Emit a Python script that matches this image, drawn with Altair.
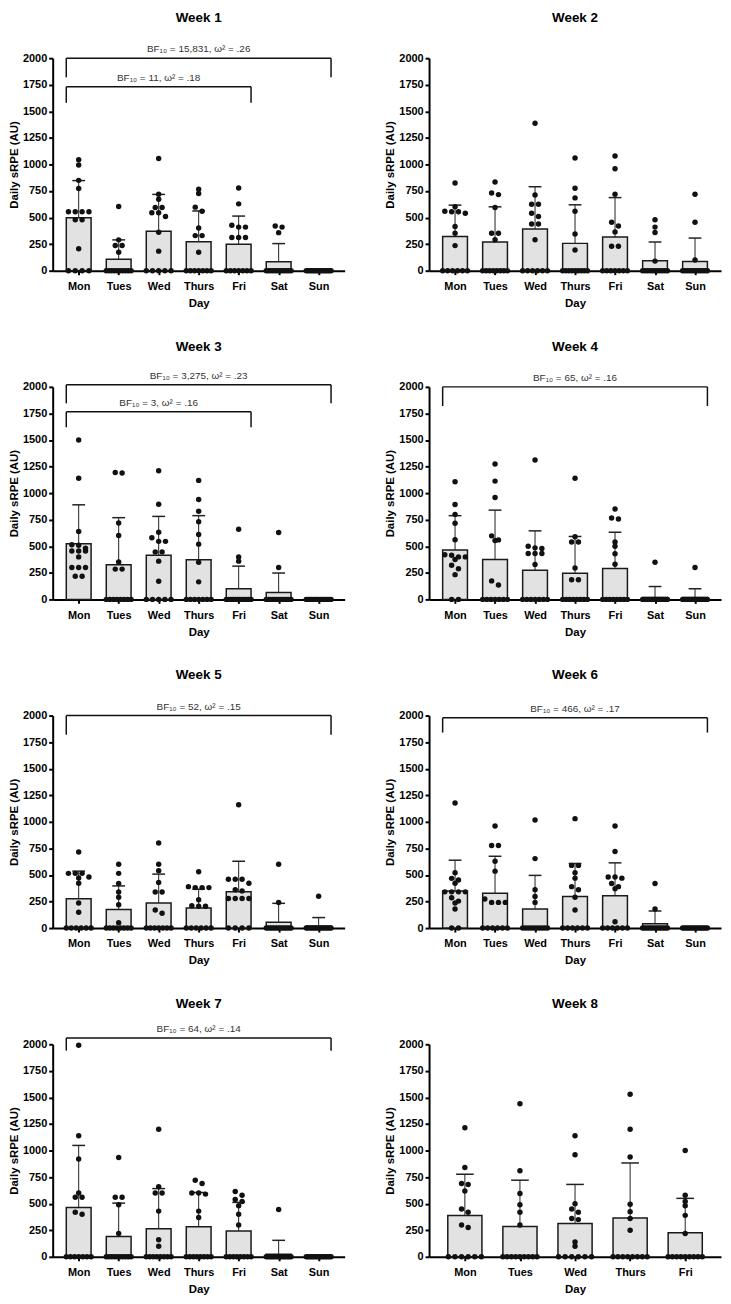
import json
import altair as alt
import pandas as pd

DAYS7 = ["Mon", "Tues", "Wed", "Thurs", "Fri", "Sat", "Sun"]
DAYS5 = ["Mon", "Tues", "Wed", "Thurs", "Fri"]

# ---------------- Week 1 ----------------
w1_mean = [498, 108, 371, 272, 249, 84, 0]
w1_sd = [350, 182, 347, 290, 265, 171, 0]
w1_points = [
    [1045, 994, 850, 773, 554, 554, 554, 554, 480, 480, 206, 0, 0, 0, 0],
    [604, 290, 237, 237, 174, 0, 0, 0, 0, 0, 0, 0, 0, 0, 0],
    [1056, 720, 673, 595, 595, 545, 545, 510, 361, 184, 0, 0, 0, 0, 0],
    [767, 727, 598, 560, 402, 330, 330, 174, 0, 0, 0, 0, 0, 0, 0],
    [779, 629, 427, 410, 410, 312, 312, 312, 0, 0, 0, 0, 0, 0, 0],
    [421, 410, 358, 0, 0, 0, 0, 0, 0, 0, 0, 0, 0, 0, 0],
    [0, 0, 0, 0, 0, 0, 0, 0, 0, 0, 0, 0, 0, 0, 0],
]
w1_brackets = [
    ("Mon", "Sun", 2000, 1820, "BF\u2081\u2080 = 15,831, \u03c9\u00b2 = .26"),
    ("Mon", "Fri", 1730, 1580, "BF\u2081\u2080 = 11, \u03c9\u00b2 = .18"),
]

# ---------------- Week 2 ----------------
w2_mean = [322, 270, 392, 257, 316, 93, 87]
w2_sd = [295, 331, 398, 363, 372, 177, 220]
w2_points = [
    [825, 601, 560, 555, 555, 540, 415, 353, 236, 0, 0, 0, 0, 0, 0],
    [834, 732, 716, 595, 353, 353, 291, 0, 0, 0, 0, 0, 0, 0, 0],
    [1388, 713, 626, 626, 540, 510, 440, 440, 291, 0, 0, 0, 0, 0, 0],
    [1060, 775, 685, 560, 345, 195, 0, 0, 0, 0, 0, 0, 0, 0, 0],
    [1080, 960, 720, 455, 420, 365, 230, 230, 0, 0, 0, 0, 0, 0, 0],
    [480, 410, 360, 90, 0, 0, 0, 0, 0, 0, 0, 0, 0, 0, 0],
    [720, 455, 100, 0, 0, 0, 0, 0, 0, 0, 0, 0, 0, 0, 0],
]
w2_brackets = []

# ---------------- Week 3 ----------------
w3_mean = [524, 326, 416, 372, 99, 65, 0]
w3_sd = [366, 443, 365, 416, 214, 183, 0]
w3_points = [
    [1500, 1140, 640, 515, 510, 481, 456, 456, 456, 400, 301, 301, 301, 217, 217],
    [1194, 1190, 719, 602, 353, 285, 285, 0, 0, 0, 0, 0, 0, 0, 0],
    [1210, 895, 632, 580, 546, 546, 447, 447, 360, 171, 0, 0, 0, 0, 0],
    [1120, 940, 830, 730, 610, 520, 350, 165, 0, 0, 0, 0, 0, 0, 0],
    [660, 400, 360, 0, 0, 0, 0, 0, 0, 0, 0, 0, 0, 0, 0],
    [630, 300, 0, 0, 0, 0, 0, 0, 0, 0, 0, 0, 0, 0, 0],
    [0, 0, 0, 0, 0, 0, 0, 0, 0, 0, 0, 0, 0, 0, 0],
]
w3_brackets = [
    ("Mon", "Sun", 2020, 1845, "BF\u2081\u2080 = 3,275, \u03c9\u00b2 = .23"),
    ("Mon", "Fri", 1765, 1620, "BF\u2081\u2080 = 3, \u03c9\u00b2 = .16"),
]

# ---------------- Week 4 ----------------
w4_mean = [465, 376, 274, 245, 291, 18, 18]
w4_sd = [323, 464, 371, 347, 341, 103, 82]
w4_points = [
    [1107, 893, 800, 716, 561, 420, 415, 400, 400, 375, 322, 288, 233, 0, 0],
    [1274, 1113, 958, 598, 560, 555, 174, 136, 0, 0, 0, 0, 0, 0, 0],
    [1312, 500, 485, 480, 431, 431, 431, 329, 0, 0, 0, 0, 0, 0, 0],
    [1140, 590, 540, 540, 295, 185, 185, 0, 0, 0, 0, 0, 0, 0, 0],
    [850, 766, 757, 540, 500, 430, 330, 0, 0, 0, 0, 0, 0, 0, 0],
    [350, 0, 0, 0, 0, 0, 0, 0, 0, 0, 0, 0, 0, 0, 0],
    [300, 0, 0, 0, 0, 0, 0, 0, 0, 0, 0, 0, 0, 0, 0],
]
w4_brackets = [
    ("Mon", "Sun", 2000, 1820, "BF\u2081\u2080 = 65, \u03c9\u00b2 = .16"),
]

# ---------------- Week 5 ----------------
w5_mean = [276, 174, 236, 189, 341, 56, 18]
w5_sd = [260, 223, 272, 177, 288, 177, 81]
w5_points = [
    [716, 515, 515, 515, 480, 471, 422, 236, 149, 0, 0, 0, 0, 0, 0],
    [600, 515, 420, 340, 290, 220, 50, 0, 0, 0, 0, 0, 0, 0, 0],
    [800, 600, 540, 430, 340, 340, 170, 140, 0, 0, 0, 0, 0, 0, 0],
    [530, 390, 381, 381, 381, 267, 210, 205, 205, 0, 0, 0, 0, 0, 0],
    [1160, 459, 459, 459, 422, 360, 350, 279, 279, 279, 279, 0, 0, 0, 0],
    [600, 240, 0, 0, 0, 0, 0, 0, 0, 0, 0, 0, 0, 0, 0],
    [300, 0, 0, 0, 0, 0, 0, 0, 0, 0, 0, 0, 0, 0, 0],
]
w5_brackets = [
    ("Mon", "Sun", 2000, 1820, "BF\u2081\u2080 = 52, \u03c9\u00b2 = .15"),
]

# ---------------- Week 6 ----------------
w6_mean = [350, 329, 180, 298, 304, 40, 0]
w6_sd = [289, 347, 316, 310, 310, 121, 0]
w6_points = [
    [1178, 521, 468, 453, 422, 341, 341, 341, 341, 285, 254, 236, 180, 0, 0],
    [961, 778, 778, 629, 536, 273, 242, 242, 242, 0, 0, 0, 0, 0, 0],
    [1017, 654, 360, 298, 242, 0, 0, 0, 0, 0, 0, 0, 0, 0, 0],
    [1030, 590, 590, 520, 470, 390, 360, 290, 170, 0, 0, 0, 0, 0, 0],
    [960, 720, 480, 480, 470, 420, 390, 370, 60, 0, 0, 0, 0, 0, 0],
    [420, 180, 0, 0, 0, 0, 0, 0, 0, 0, 0, 0, 0, 0, 0],
    [0, 0, 0, 0, 0, 0, 0, 0, 0, 0, 0, 0, 0, 0, 0],
]
w6_brackets = [
    ("Mon", "Sun", 1980, 1840, "BF\u2081\u2080 = 466, \u03c9\u00b2 = .17"),
]

# ---------------- Week 7 ----------------
w7_mean = [465, 192, 264, 282, 242, 25, 0]
w7_sd = [583, 313, 378, 323, 270, 130, 0]
w7_points = [
    [1990, 1140, 920, 600, 560, 560, 420, 400, 0, 0, 0, 0, 0, 0, 0],
    [935, 560, 560, 490, 220, 0, 0, 0, 0, 0, 0, 0, 0, 0, 0],
    [1200, 660, 600, 600, 430, 160, 100, 0, 0, 0, 0, 0, 0, 0, 0],
    [720, 690, 600, 600, 590, 430, 370, 0, 0, 0, 0, 0, 0, 0, 0],
    [615, 580, 540, 520, 480, 400, 300, 0, 0, 0, 0, 0, 0, 0, 0],
    [445, 0, 0, 0, 0, 0, 0, 0, 0, 0, 0, 0, 0, 0, 0],
    [0, 0, 0, 0, 0, 0, 0, 0, 0, 0, 0, 0, 0, 0, 0],
]
w7_brackets = [
    ("Mon", "Sun", 2060, 1940, "BF\u2081\u2080 = 64, \u03c9\u00b2 = .14"),
]

# ---------------- Week 8 ----------------
w8_mean = [388, 285, 313, 366, 226]
w8_sd = [389, 436, 368, 517, 324]
w8_points = [
    [1215, 840, 690, 680, 620, 450, 420, 300, 275, 0, 0, 0, 0, 0, 0],
    [1440, 810, 595, 490, 420, 300, 0, 0, 0, 0, 0, 0, 0, 0, 0],
    [1140, 960, 500, 450, 420, 360, 350, 140, 100, 0, 0, 0, 0, 0, 0],
    [1530, 1200, 940, 495, 425, 360, 250, 0, 0, 0, 0, 0, 0, 0, 0],
    [1000, 580, 520, 480, 390, 220, 0, 0, 0, 0, 0, 0, 0, 0, 0],
]
w8_brackets = []

WEEKS = [
    (1, DAYS7, w1_mean, w1_sd, w1_points, w1_brackets),
    (2, DAYS7, w2_mean, w2_sd, w2_points, w2_brackets),
    (3, DAYS7, w3_mean, w3_sd, w3_points, w3_brackets),
    (4, DAYS7, w4_mean, w4_sd, w4_points, w4_brackets),
    (5, DAYS7, w5_mean, w5_sd, w5_points, w5_brackets),
    (6, DAYS7, w6_mean, w6_sd, w6_points, w6_brackets),
    (7, DAYS7, w7_mean, w7_sd, w7_points, w7_brackets),
    (8, DAYS5, w8_mean, w8_sd, w8_points, w8_brackets),
]

# ---------------- layout / style ----------------
W, H = 294, 214
HALF = 0.31      # half bar width in category units
CAP = 0.16       # half error-cap width
FONT = "Liberation Sans"
YMAX = 2000


def swarm(vals, step_px):
    """simple row-based beeswarm: returns list of (value, x-offset in category units)"""
    srt = sorted(vals, reverse=True)
    rows = []
    for v in srt:
        if rows and rows[-1][0] - v < 40:
            rows[-1].append(v)
        else:
            rows.append([v])
    out = []
    for r in rows:
        m = len(r)
        sp = 7.5 / step_px
        if m > 1:
            sp = min(sp, 2 * HALF / (m - 1))
        for k, v in enumerate(r):
            out.append((v, (k - (m - 1) / 2) * sp))
    return out


def title_offset(brackets):
    over = 6.0
    for b in brackets:
        over = max(over, (b[2] - YMAX) / YMAX * H + 14)
    return 20.0 - over


def make_panel(week, days, mean, sd, points, brackets):
    n = len(days)
    step_px = W / (n - 0.3)
    idx = list(range(n))

    bar_df = pd.DataFrame({"day": days, "idx": idx, "mean": mean, "sd": sd})
    bar_df["left"] = bar_df["idx"] - HALF
    bar_df["right"] = bar_df["idx"] + HALF
    bar_df["zero"] = 0
    bar_df["top"] = bar_df["mean"] + bar_df["sd"]
    bar_df["capl"] = bar_df["idx"] - CAP
    bar_df["capr"] = bar_df["idx"] + CAP

    prow = []
    for i, vals in enumerate(points):
        for v, off in swarm(vals, step_px):
            prow.append({"day": days[i], "xp": i + off, "val": v})
    pt_df = pd.DataFrame(prow)

    xs = alt.Scale(domain=[-0.65, n - 0.35], nice=False, zero=False)
    ys = alt.Scale(domain=[0, YMAX], nice=False)
    xaxis = alt.Axis(
        title="Day", values=idx, labelExpr=json.dumps(days) + "[datum.value]",
        labelFlush=False, labelOverlap=False, labelPadding=6, titlePadding=6,
    )
    yaxis = alt.Axis(
        title="Daily sRPE (AU)", values=list(range(0, YMAX + 1, 250)), format="d",
        labelPadding=2, titlePadding=3, labelOverlap=False,
    )

    def X(f):
        return alt.X(f, type="quantitative", scale=xs, axis=xaxis)

    def Y(f):
        return alt.Y(f, type="quantitative", scale=ys, axis=yaxis)

    base = alt.Chart(bar_df)
    bars = base.mark_bar(fill="#e2e2e2", stroke="#1a1a1a", strokeWidth=1.5).encode(
        x=X("left"), x2="right", y=Y("mean"), y2="zero"
    )
    err = base.transform_filter("datum.sd > 0").mark_rule(
        color="#222", strokeWidth=1
    ).encode(x=X("idx"), y=Y("mean"), y2="top")
    cap = base.transform_filter("datum.sd > 0").mark_rule(
        color="#222", strokeWidth=1.5
    ).encode(x=X("capl"), x2="capr", y=Y("top"))
    dots = alt.Chart(pt_df).mark_circle(size=30, color="#111", opacity=1).encode(
        x=X("xp"), y=Y("val")
    )
    layers = [bars, err, cap, dots]

    if brackets:
        hb, legs, txt = [], [], []
        for (d0, d1, line, leg, label) in brackets:
            a = days.index(d0) - HALF
            b = days.index(d1) + HALF
            hb.append({"a": a, "b": b, "line": line})
            legs.append({"x": a, "line": line, "leg": leg})
            legs.append({"x": b, "line": line, "leg": leg})
            txt.append({"x": (a + b) / 2, "line": line, "label": label})
        hb_df, leg_df, txt_df = pd.DataFrame(hb), pd.DataFrame(legs), pd.DataFrame(txt)
        layers.append(alt.Chart(hb_df).mark_rule(color="#111", strokeWidth=1.5).encode(
            x=X("a"), x2="b", y=Y("line")))
        layers.append(alt.Chart(leg_df).mark_rule(color="#111", strokeWidth=1.5).encode(
            x=X("x"), y=Y("line"), y2="leg"))
        layers.append(alt.Chart(txt_df).mark_text(
            font=FONT, fontSize=10, color="#333", baseline="bottom", dy=-4, align="center"
        ).encode(x=X("x"), y=Y("line"), text="label:N"))

    return alt.layer(*layers).properties(
        width=W, height=H,
        title=alt.TitleParams(
            text=f"Week {week}", font=FONT, fontSize=13.5, fontWeight="bold",
            color="black", anchor="middle", frame="group", baseline="bottom",
            offset=title_offset(brackets),
        ),
    )


panels = [make_panel(*w) for w in WEEKS]

chart = alt.concat(
    *panels, columns=2, spacing={"row": 117, "column": 85}, bounds="flush"
).properties(
    padding={"left": 0, "top": -2, "right": 2, "bottom": 2}
).configure_view(stroke=None).configure_axis(
    grid=False, domainColor="black", domainWidth=2, tickColor="black",
    tickWidth=2, tickSize=4, labelFont=FONT, labelFontWeight="bold",
    labelFontSize=11, labelColor="black", titleFont=FONT, titleFontWeight="bold",
    titleFontSize=11.5, titleColor="black",
)

chart.save("out.html", embed_options={"renderer": "svg", "actions": False})
